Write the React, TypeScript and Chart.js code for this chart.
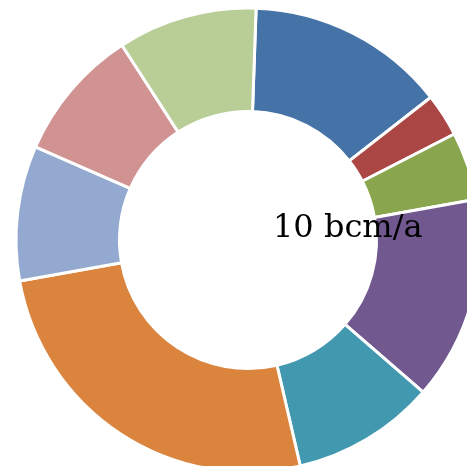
import React, { useEffect, useRef } from "react";
import { Chart, registerables } from "chart.js";

Chart.register(...registerables);

const categories = ["A", "B", "C", "D", "E", "F", "G", "H", "I"];
const values = [13.9, 3.0, 4.75, 14.2, 10.0, 25.8, 9.4, 9.3, 9.7];
const colors = [
  "#4572A7",
  "#AA4643",
  "#89A54E",
  "#71588F",
  "#4198AF",
  "#DB843D",
  "#93A9CF",
  "#D19392",
  "#B9CD96",
];
const centerLabel = "10 bcm/a";

const labelPlugin = {
  id: "centerLabel",
  afterDraw(chart: any) {
    const meta = chart.getDatasetMeta(0);
    const arc = meta.data[0];
    if (!arc) return;
    const { x, y } = arc.getProps(["x", "y"], true);
    const ctx = chart.ctx;
    ctx.save();
    ctx.font = "32px 'DejaVu Serif'";
    ctx.fillStyle = "#000000";
    ctx.textAlign = "left";
    ctx.textBaseline = "alphabetic";
    ctx.fillText(centerLabel, x + 25, y - 3);
    ctx.restore();
  },
};

export default function App() {
  const ref = useRef<HTMLCanvasElement | null>(null);
  useEffect(() => {
    if (!ref.current) return;
    const chart = new Chart(ref.current, {
      type: "doughnut",
      data: {
        labels: categories,
        datasets: [
          {
            data: values,
            backgroundColor: colors,
            borderColor: "#ffffff",
            borderWidth: 3,
          },
        ],
      },
      options: {
        responsive: false,
        animation: false,
        rotation: 2,
        radius: 232,
        cutout: "55.4%",
        layout: { padding: 0 },
        plugins: {
          legend: { display: false },
          tooltip: { enabled: false },
        },
      },
      plugins: [labelPlugin],
    });
    return () => chart.destroy();
  }, []);
  return (
    <div
      style={{
        position: "fixed",
        left: 0,
        top: 0,
        width: 467,
        height: 466,
        overflow: "hidden",
        background: "#ffffff",
      }}
    >
      <canvas ref={ref} width={496} height={480} style={{ display: "block" }} />
    </div>
  );
}
